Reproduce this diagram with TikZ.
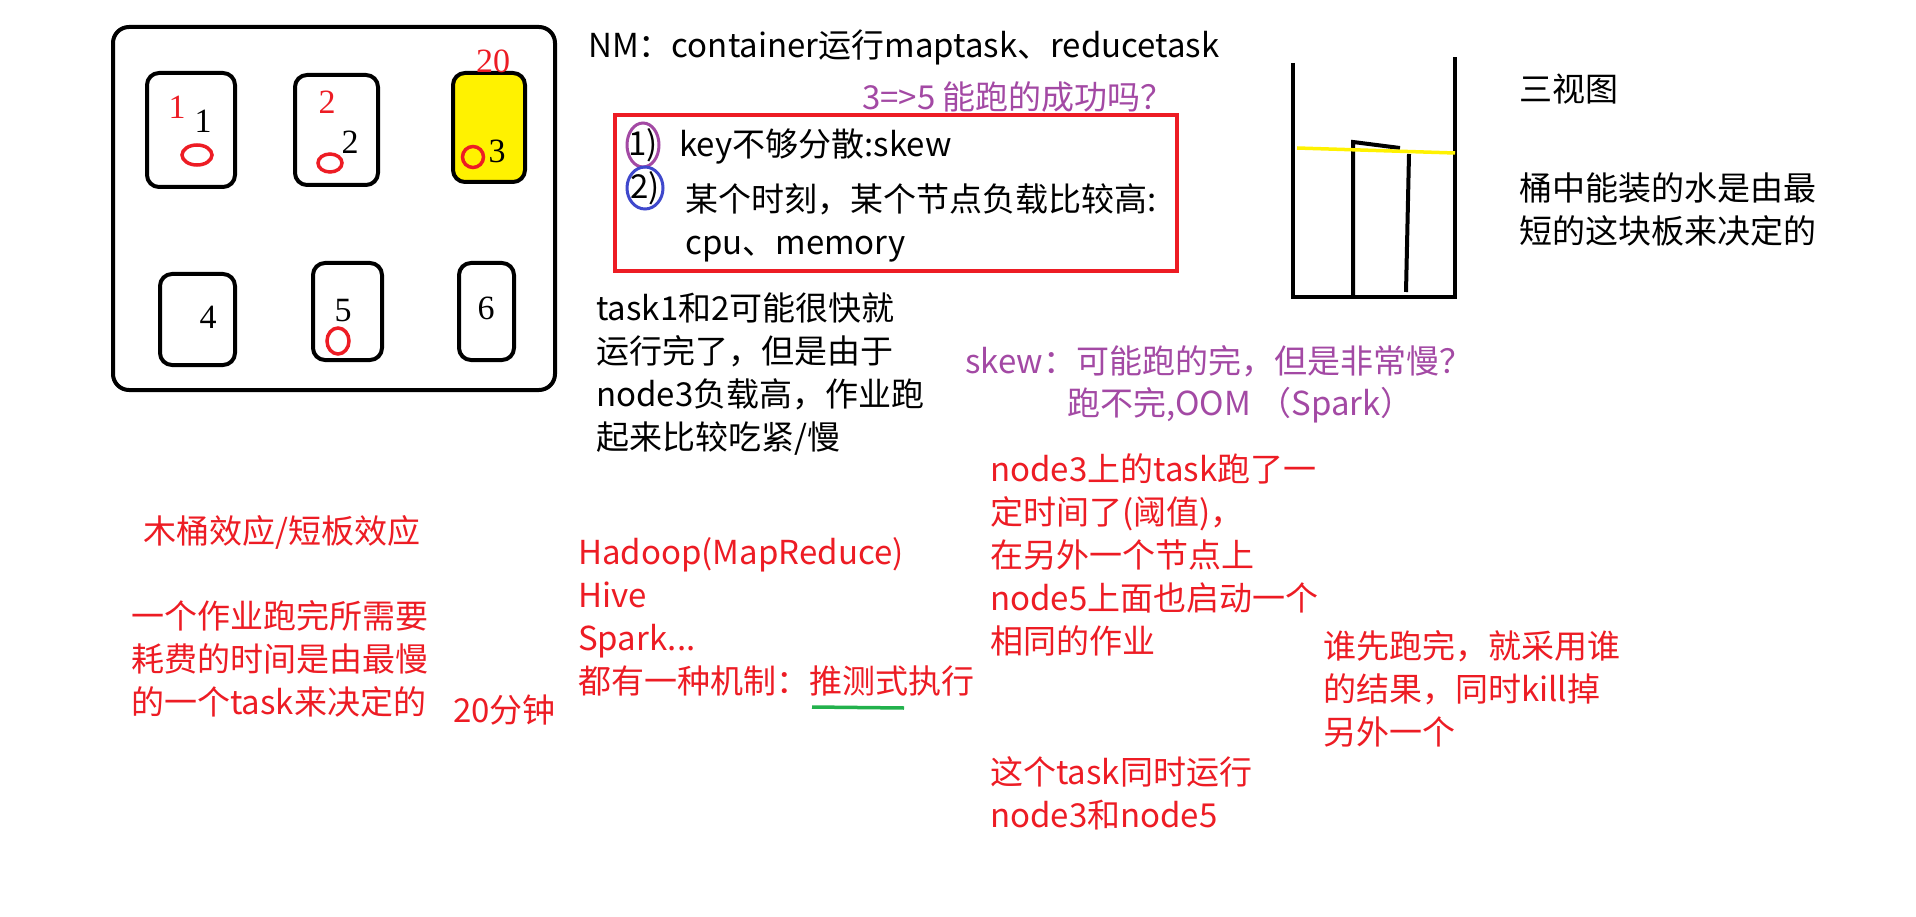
\documentclass[tikz,border=0pt]{standalone}
\usepackage{fontspec}
\setmainfont{Noto Sans CJK SC}
\newfontfamily\numfont{Liberation Serif}
\definecolor{paintRed}{RGB}{237, 28, 36}
\definecolor{paintPurple}{RGB}{163, 73, 164}
\definecolor{paintBlue}{RGB}{63, 72, 204}
\definecolor{paintYellow}{RGB}{255, 242, 0}
\definecolor{paintGreen}{RGB}{34, 177, 76}
\usetikzlibrary{positioning}

\begin{document}
\begin{tikzpicture}[
      x=1pt, y=-1pt,
      note/.style={
        inner sep=0pt, anchor=north west, align=left,
        font=\fontsize{33}{43}\selectfont
      },
      rednote/.style={note, text=paintRed},
      purplenote/.style={note, text=paintPurple},
      digit/.style={inner sep=0pt, font=\numfont\fontsize{34}{34}\selectfont},
      reddigit/.style={digit, text=paintRed},
      nodebox/.style={draw, line width=4pt, rounded corners=12pt},
      taskmark/.style={draw=paintRed, line width=3.5pt},
      plank/.style={line width=4pt},
    ]
      \useasboundingbox[fill=white] (0,0) rectangle (1916,917);

      % cluster with six nodes
      \draw[nodebox, rounded corners=16pt] (113,27) rectangle (555,390);
      \draw[nodebox] (147,73) rectangle (235,187);
      \draw[nodebox] (295,75) rectangle (378,185);
      \draw[nodebox, fill=paintYellow] (453,73) rectangle (525,182);
      \draw[nodebox] (160,274) rectangle (235,365);
      \draw[nodebox] (313,263) rectangle (382,360);
      \draw[nodebox] (459,263) rectangle (514,360);

      \node[reddigit] (t1)  at (177,107) {1};
      \node[digit]    (n1)  at (203,121) {1};
      \node[reddigit] (t2)  at (327,102) {2};
      \node[digit]    (n2)  at (350,142) {2};
      \node[reddigit] (t20) at (493,61)  {20};
      \node[digit]    (n3)  at (497,151) {3};
      \node[digit]    (n4)  at (208,317) {4};
      \node[digit]    (n5)  at (343,311) {5};
      \node[digit]    (n6)  at (486,308) {6};

      \draw[taskmark] (197,155) ellipse [x radius=15pt, y radius=10pt];
      \draw[taskmark] (330,163) ellipse [x radius=12pt, y radius=9pt];
      \draw[taskmark] (473,157) circle [radius=10.5pt];
      \draw[taskmark] (338,341) ellipse [x radius=11pt, y radius=13pt];

      % notes on the top
      \node[note] (nm) at (588,30) {NM：container运行maptask、reducetask};
      \node[purplenote] (ask) at (862,81) {3=>5 能跑的成功吗？};

      \draw[draw=paintRed, line width=4pt] (615,115) rectangle (1177,271);
      \node[note, anchor=center] (r1) at (643,145) {1)};
      \node[note, anchor=center] (r2) at (645,188) {2)};
      \draw[draw=paintPurple, line width=3pt] (r1) ellipse [x radius=16pt, y radius=22pt];
      \draw[draw=paintBlue, line width=3pt] (r2) ellipse [x radius=18pt, y radius=21pt];
      \node[note] (reason1) at (679,129) {key不够分散:skew};
      \node[note] (reason2) at (685,183) {某个时刻，某个节点负载比较高:\\cpu、memory};

      \node[note] (slow) at (596,293)
        {task1和2可能很快就\\运行完了，但是由于\\node3负载高，作业跑\\起来比较吃紧/慢};
      \node[purplenote] (skew) at (965,345) {skew：可能跑的完，但是非常慢？};
      \node[purplenote] (oom) at (1067,387) {跑不完,OOM （Spark）};

      % bucket
      \draw[plank] (1293,63) -- (1293,297) -- (1455,297) -- (1455,57);
      \draw[plank] (1353,297) -- (1353,142) -- (1400,148);
      \draw[plank] (1406,292) -- (1409,154);
      \draw[draw=paintYellow, line width=3.5pt] (1297,148) -- (1455,153);

      \node[note] (view) at (1519,74) {三视图};
      \node[note] (water) at (1519,172) {桶中能装的水是由最\\短的这块板来决定的};

      % bottom notes
      \node[rednote] (effect) at (143,515) {木桶效应/短板效应};
      \node[rednote] (job) at (131,600)
        {一个作业跑完所需要\\耗费的时间是由最慢\\的一个task来决定的};
      \node[rednote] (minutes) at (453,695) {20分钟};

      \node[rednote] (frame) at (578,537)
        {Hadoop(MapReduce)\\Hive\\Spark...\\都有一种机制：推测式执行};
      \draw[draw=paintGreen, line width=3.5pt] (812,707) -- (904,708);

      \node[rednote] (backup) at (990,453)
        {node3上的task跑了一\\定时间了(阈值)，\\在另外一个节点上\\node5上面也启动一个\\相同的作业};
      \node[rednote] (both) at (990,756) {这个task同时运行\\node3和node5};
      \node[rednote] (winner) at (1323,630)
        {谁先跑完，就采用谁\\的结果，同时kill掉\\另外一个};
    \end{tikzpicture}
\end{document}
